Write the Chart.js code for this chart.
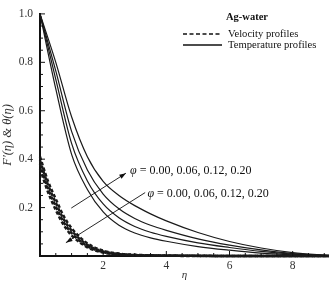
<!DOCTYPE html>
<html>
<head>
<meta charset="utf-8">
<script src="https://cdn.jsdelivr.net/npm/chart.js@4/dist/chart.umd.min.js"></script>
<style>
  html, body { margin: 0; padding: 0; background: #fff; }
</style>
</head>
<body>
<canvas id="chart" width="329" height="282"></canvas>
<script>
  // eta grid for the velocity profiles
  var etaVel = [0, 0.25, 0.5, 0.75, 1, 1.5, 2, 2.5, 3, 3.5, 4, 5, 6, 7, 8, 9.15];
  // velocity profiles F'(eta), phi = 0.00, 0.06, 0.12, 0.20
  var vel000 = [0.41, 0.31, 0.235, 0.165, 0.115, 0.052, 0.022, 0.010, 0.005, 0.003, 0.002, 0.001, 0, 0, 0, 0];
  var vel006 = [0.395, 0.295, 0.22, 0.152, 0.105, 0.046, 0.019, 0.008, 0.004, 0.002, 0.0015, 0.001, 0, 0, 0, 0];
  var vel012 = [0.38, 0.28, 0.205, 0.14, 0.095, 0.041, 0.016, 0.007, 0.003, 0.002, 0.001, 0.0005, 0, 0, 0, 0];
  var vel020 = [0.36, 0.265, 0.19, 0.128, 0.085, 0.036, 0.014, 0.006, 0.003, 0.0015, 0.001, 0, 0, 0, 0, 0];

  // eta grid for the temperature profiles
  var etaTemp = [0, 0.5, 1, 1.5, 2, 2.5, 3, 3.5, 4, 5, 6, 7, 8, 9.15];
  // temperature profiles theta(eta)
  var temp000 = [1, 0.69, 0.42, 0.275, 0.182, 0.127, 0.095, 0.075, 0.061, 0.039, 0.024, 0.012, 0.005, 0];
  var temp006 = [1, 0.73, 0.465, 0.31, 0.215, 0.158, 0.122, 0.098, 0.081, 0.054, 0.035, 0.019, 0.008, 0.001];
  var temp012 = [1, 0.765, 0.515, 0.355, 0.256, 0.195, 0.155, 0.127, 0.106, 0.071, 0.045, 0.025, 0.01, 0.002];
  var temp020 = [1, 0.80, 0.575, 0.41, 0.308, 0.25, 0.208, 0.174, 0.145, 0.097, 0.06, 0.033, 0.014, 0.003];

  var yTicks = [0.2, 0.4, 0.6, 0.8, 1.0];
  var xTicks = [2, 4, 6, 8];
  var phiText = ' = 0.00, 0.06, 0.12, 0.20';

  var serif = '"Liberation Serif", "DejaVu Serif", serif';

  function pts(xs, arr) {
    return xs.map(function (x, i) { return { x: x, y: arr[i] }; });
  }

  function velSet(arr) {
    return { data: pts(etaVel, arr), borderColor: '#1a1a1a', borderWidth: 2.5, borderDash: [3.5, 2.2],
             pointRadius: 0, cubicInterpolationMode: 'monotone', fill: false, clip: 3 };
  }
  function tempSet(arr) {
    return { data: pts(etaTemp, arr), borderColor: '#1a1a1a', borderWidth: 1.2,
             pointRadius: 0, cubicInterpolationMode: 'monotone', fill: false, clip: 3 };
  }

  function arrow(ctx, x1, y1, x2, y2) {
    ctx.beginPath();
    ctx.moveTo(x1, y1);
    ctx.lineTo(x2, y2);
    ctx.stroke();
    var a = Math.atan2(y2 - y1, x2 - x1);
    ctx.beginPath();
    ctx.moveTo(x2, y2);
    ctx.lineTo(x2 - 7 * Math.cos(a - 0.33), y2 - 7 * Math.sin(a - 0.33));
    ctx.lineTo(x2 - 7 * Math.cos(a + 0.33), y2 - 7 * Math.sin(a + 0.33));
    ctx.closePath();
    ctx.fill();
  }

  function phiLabel(ctx, x, y) {
    ctx.textBaseline = 'middle';
    ctx.textAlign = 'left';
    ctx.font = 'italic 12px ' + serif;
    ctx.fillText('\u03c6', x, y);
    var w = ctx.measureText('\u03c6').width;
    ctx.font = '12px ' + serif;
    ctx.fillText(phiText, x + w, y);
  }

  var extras = {
    id: 'extras',
    afterDraw: function (chart) {
      var ctx = chart.ctx;
      var xs = chart.scales.x, ys = chart.scales.y;
      var area = chart.chartArea;
      ctx.save();
      ctx.strokeStyle = '#111';
      ctx.fillStyle = '#111';
      ctx.lineWidth = 1;

      // inward ticks
      for (var v = 0.05; v < 1.001; v += 0.05) {
        var py = ys.getPixelForValue(v);
        var major = Math.abs(v * 5 - Math.round(v * 5)) < 0.01;
        ctx.beginPath();
        ctx.moveTo(area.left, py);
        ctx.lineTo(area.left + (major ? 5 : 3), py);
        ctx.stroke();
      }
      for (var u = 0.5; u < 9.1; u += 0.5) {
        var px = xs.getPixelForValue(u);
        var maj = xTicks.indexOf(u) >= 0;
        ctx.beginPath();
        ctx.moveTo(px, area.bottom);
        ctx.lineTo(px, area.bottom - (maj ? 5 : 3));
        ctx.stroke();
      }

      // annotations
      ctx.lineWidth = 0.9;
      arrow(ctx, xs.getPixelForValue(0.99), ys.getPixelForValue(0.198),
                 xs.getPixelForValue(2.72), ys.getPixelForValue(0.342));
      arrow(ctx, xs.getPixelForValue(3.33), ys.getPixelForValue(0.262),
                 xs.getPixelForValue(0.82), ys.getPixelForValue(0.055));
      phiLabel(ctx, xs.getPixelForValue(2.85), ys.getPixelForValue(0.353));
      phiLabel(ctx, xs.getPixelForValue(3.40), ys.getPixelForValue(0.257));

      // legend
      ctx.textAlign = 'center';
      ctx.textBaseline = 'middle';
      ctx.font = 'bold 10.5px ' + serif;
      ctx.fillText('Ag-water', 247, 17);
      ctx.lineWidth = 1.3;
      ctx.setLineDash([4, 2.5]);
      ctx.beginPath(); ctx.moveTo(183, 34); ctx.lineTo(221, 34); ctx.stroke();
      ctx.setLineDash([]);
      ctx.beginPath(); ctx.moveTo(183, 45); ctx.lineTo(222, 45); ctx.stroke();
      ctx.textAlign = 'left';
      ctx.font = '10.6px ' + serif;
      ctx.fillText('Velocity profiles', 228, 34);
      ctx.fillText('Temperature profiles', 228, 45.5);
      ctx.restore();
    }
  };

  var ctx = document.getElementById('chart').getContext('2d');
  var chart = new Chart(ctx, {
    type: 'line',
    data: {
      datasets: [
        velSet(vel000), velSet(vel006), velSet(vel012), velSet(vel020),
        tempSet(temp000), tempSet(temp006), tempSet(temp012), tempSet(temp020)
      ]
    },
    options: {
      responsive: false,
      animation: false,
      layout: { padding: { top: 5, right: 0, left: 0, bottom: 0 } },
      plugins: { legend: { display: false }, tooltip: { enabled: false } },
      scales: {
        x: {
          type: 'linear', min: 0, max: 9.15,
          afterFit: function (s) { s.height = 26; },
          afterBuildTicks: function (s) { s.ticks = xTicks.map(function (v) { return { value: v }; }); },
          grid: { display: false, drawTicks: false },
          border: { display: true, color: '#111', width: 2 },
          ticks: { color: '#333', padding: 3, font: { family: serif, size: 11.5 } },
          title: { display: true, text: '\u03b7', color: '#333', padding: { top: 0, bottom: 0 },
                   font: { family: serif, size: 11, style: 'italic' } }
        },
        y: {
          min: 0, max: 1,
          afterFit: function (s) { s.width = 40; },
          afterBuildTicks: function (s) { s.ticks = yTicks.map(function (v) { return { value: v }; }); },
          grid: { display: false, drawTicks: false },
          border: { display: true, color: '#111', width: 2 },
          ticks: { color: '#333', padding: 7, font: { family: serif, size: 11.5 },
                   callback: function (v) { return v.toFixed(1); } },
          title: { display: true, text: 'F\u2032(\u03b7) & \u03b8(\u03b7)', color: '#333', padding: { top: 0, bottom: 1 },
                   font: { family: serif, size: 12.5, style: 'italic' } }
        }
      }
    },
    plugins: [extras]
  });
</script>
</body>
</html>
